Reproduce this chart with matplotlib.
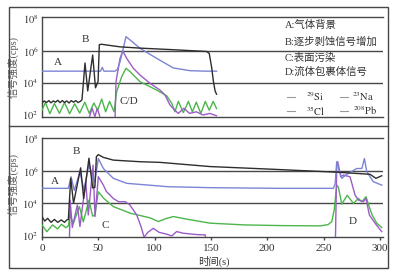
import numpy as np
import matplotlib
matplotlib.use('Agg')
import matplotlib.pyplot as plt
from matplotlib.patches import Rectangle
from matplotlib.lines import Line2D

plt.rcParams['font.family'] = ['Liberation Serif', 'Noto Sans CJK SC']
plt.rcParams['mathtext.fontset'] = 'stix'

W, H = 401, 275

# ---------------- data (time in s, log10 of intensity in cps) ----------------
# top panel
top_si_t = [0, 2, 4, 6, 8, 10, 12, 14, 16, 18, 20, 22, 24, 26, 28, 30, 32, 34, 35.5,
            38.2, 40.6, 45, 47.5, 49.8, 50.9, 53, 60, 69.3, 87, 116.6, 146.2, 148.5,
            150.7, 152.2, 153.7, 155]
top_si = [2.75, 2.88, 2.78, 2.9, 2.76, 2.88, 2.8, 2.92, 2.77, 2.9, 2.78, 2.88, 2.75, 2.9,
          2.8, 2.9, 2.78, 2.85, 2.95, 5.25, 3.5, 5.75, 3.7, 4.1, 6.4, 6.42, 6.35, 6.26,
          6.18, 6.08, 5.97, 5.85, 4.95, 4.1, 3.5, 3.3]

top_na_t = [0, 52, 53.5, 55, 64.8, 67, 69.3, 72.2, 74.6, 78.2, 87, 101.8, 116.6, 131.4, 145, 155]
top_na = [4.74, 4.74, 4.98, 4.74, 4.74, 4.85, 5.33, 6.17, 6.9, 6.69, 6.17, 5.54, 4.94,
          4.77, 4.74, 4.74]

top_pb_t = [40, 42, 44.5, 47, 49, 51, 52, 64.8, 65.7, 69.3, 71.7, 75.2, 81.1, 87, 95.9,
            104.8, 109.2, 113.7, 118, 121, 126, 131, 137, 143, 149, 153, 155]
top_pb = [1.5, 1.85, 2.42, 1.9, 2.4, 2.0, 1.5, 1.5, 4.08, 5.54, 6.0, 5.54, 4.92, 4.5, 3.98,
          3.56, 3.25, 2.62, 2.3, 2.1, 2.42, 2.1, 2.2, 2.0, 2.1, 2.0, 1.95]

top_cl_t = [0, 3, 7, 11, 15.5, 20, 24.5, 29, 33.5, 38, 42, 46, 49.5, 53, 56.5, 60, 64, 66.3,
            70.8, 74.6, 78.2, 87, 101.8, 110.7, 115.2, 118, 121, 125.5, 130, 133.5, 137,
            141, 145, 148.5, 152, 155]
top_cl = [2.3, 2.78, 2.08, 2.72, 2.1, 2.78, 2.08, 2.7, 2.12, 2.8, 2.1, 2.75, 2.3, 3.0, 2.2,
          2.85, 2.2, 3.46, 4.4, 4.92, 4.71, 4.08, 3.56, 3.2, 2.73, 2.2, 2.85, 2.15, 2.85,
          2.2, 2.8, 2.1, 2.85, 2.3, 2.85, 2.4]

# bottom panel
bot_si_t = [0, 2.5, 5, 8, 11, 14, 17, 20, 22, 23.4, 25.5, 28, 34.3, 37, 41.7, 45, 47, 48.3,
            50, 54.5, 63.3, 87, 104.8, 149.2, 202.5, 262, 291.3, 296.5, 301.7]
bot_si = [3.17, 2.9, 3.07, 2.82, 3.0, 2.82, 2.97, 2.82, 2.97, 3.0, 5.55, 4.0, 6.2, 4.3, 6.8,
          4.95, 5.0, 6.9, 7.02, 6.85, 6.68, 6.58, 6.54, 6.28, 6.12, 5.93, 5.8, 5.55, 5.71]

bot_na_t = [0, 23.4, 25.8, 28.7, 33.7, 37.3, 41.7, 45.6, 47, 50, 54.5, 63.3, 75.2, 112, 150,
            211, 258.7, 260.3, 261.7, 263.2, 266.2, 270.6, 279.5, 284, 286.3, 288.4, 294.2,
            301.7]
bot_na = [4.93, 4.93, 5.65, 4.8, 5.96, 4.8, 6.47, 5.34, 5.4, 6.78, 6.16, 5.55, 5.24, 5.03,
          4.97, 4.93, 4.93, 5.2, 6.58, 6.2, 5.55, 5.8, 6.16, 6.16, 6.78, 5.96, 5.34, 5.13]

bot_pb_t = [24.3, 25.0, 26.9, 31.4, 33.7, 38.8, 41.1, 45.3, 47.1, 50, 54.5, 57, 63.3, 68, 74,
            78, 84.1, 88, 90.6, 94, 98.8, 104, 110, 115.2, 119.6, 125, 134.4, 140, 144.8,
            146, 260.5, 261.7, 262.6, 265.3, 267.6, 273.5, 278, 281, 285.4, 287.7, 290.7,
            295.7, 301.7]
bot_pb = [1.5, 4.2, 2.5, 3.9, 2.56, 5.34, 3.28, 6.37, 3.18, 5.65, 5.13, 4.75, 4.3, 4.1, 4.1,
          3.9, 3.28, 2.55, 1.9, 2.2, 2.45, 2.2, 2.1, 1.98, 2.25, 2.15, 2.08, 2.05, 2.05,
          1.5, 1.5, 6.3, 6.58, 5.65, 5.75, 5.65, 4.51, 4.2, 4.1, 4.3, 3.28, 2.77, 2.24]

bot_cl_t = [0, 4.3, 9.4, 13.8, 17.3, 21.2, 23.4, 24.8, 27.8, 33.2, 36.7, 41.7, 45, 47, 50,
            54.5, 63.3, 78.2, 95.9, 103.3, 110, 116.6, 130, 149.2, 180, 211.4, 247, 254,
            257.3, 259.5, 261.7, 263.2, 266.2, 271, 276.5, 281, 284, 287.7, 290.5, 293,
            297.2, 301.7]
bot_cl = [2.66, 2.24, 2.66, 2.41, 2.7, 2.49, 2.6, 3.28, 2.75, 3.8, 2.85, 4.2, 3.2, 3.3, 4.72,
          4.33, 3.8, 3.39, 3.1, 2.87, 3.05, 3.18, 3.0, 2.77, 2.66, 2.62, 2.6, 2.68, 2.87,
          3.6, 5.13, 5.0, 3.95, 4.5, 4.0, 4.3, 4.1, 4.41, 3.8, 3.3, 2.77, 2.5]

x_ticks = [0, 50, 100, 150, 200, 250, 300]
y_ticks = [2, 4, 6, 8]

legend_notes = ['A:气体背景', 'B:逐步剥蚀信号增加', 'C:表面污染', 'D:流体包裹体信号']
element_labels = [r'$^{29}\mathrm{Si}$', r'$^{23}\mathrm{Na}$',
                  r'$^{35}\mathrm{Cl}$', r'$^{208}\mathrm{Pb}$']

# ---------------- styling ----------------
C_SI = '#2e2e2e'
C_NA = '#7c84d6'
C_CL = '#4cb64c'
C_PB = '#9b5cc6'
C_AX = '#474747'
C_TX = '#333333'
LW = 1.0

fig = plt.figure(figsize=(W / 100, H / 100), dpi=100)


def fx(x):
    return x / W


def fy(y):
    return 1 - y / H


ax1 = fig.add_axes([fx(42), fy(117), (383 - 42) / W, 100 / H])
ax2 = fig.add_axes([fx(42), fy(236.7), (383 - 42) / W, 99 / H])


def pw(v):
    return 10 ** np.asarray(v, dtype=float)


for ax, ylim in ((ax1, (10 ** 1.875, 10 ** 8.125)), (ax2, (10 ** 1.93, 10 ** 8.07))):
    ax.set_yscale('log')
    ax.set_xlim(0, 302.8)
    ax.set_ylim(*ylim)
    ax.set_yticks([10.0 ** e for e in y_ticks])
    ax.set_yticklabels([r'$10^{%d}$' % e for e in y_ticks])
    ax.yaxis.set_minor_locator(matplotlib.ticker.NullLocator())
    ax.tick_params(axis='y', length=0, pad=2.5, labelsize=7.5, labelcolor=C_TX)
    ax.spines['right'].set_visible(False)
    for s in ('left', 'top', 'bottom'):
        ax.spines[s].set_color(C_AX)
        ax.spines[s].set_linewidth(1.0)
    ax.axhline(1e6, color=C_AX, lw=1.0, zorder=1)
    ax.axhline(1e4, color=C_AX, lw=1.0, zorder=1)
    ax.patch.set_alpha(0)

ax1.set_xticks([])

ax1.plot(top_cl_t, pw(top_cl), color=C_CL, lw=LW, zorder=3)
ax1.plot(top_pb_t, pw(top_pb), color=C_PB, lw=LW, zorder=3)
ax1.plot(top_na_t, pw(top_na), color=C_NA, lw=LW, zorder=3)
ax1.plot(top_si_t, pw(top_si), color=C_SI, lw=LW, zorder=3)

ax2.plot(bot_cl_t, pw(bot_cl), color=C_CL, lw=LW, zorder=3)
ax2.plot(bot_pb_t, pw(bot_pb), color=C_PB, lw=LW, zorder=3)
ax2.plot(bot_na_t, pw(bot_na), color=C_NA, lw=LW, zorder=3)
ax2.plot(bot_si_t, pw(bot_si), color=C_SI, lw=LW, zorder=3)

ax2.set_xticks(x_ticks)
ax2.set_xticklabels([str(v) for v in x_ticks])
ax2.tick_params(axis='x', direction='out', length=2.5, width=1.0, color=C_AX,
                pad=2.5, labelsize=8, labelcolor=C_TX)

# ---------------- texts ----------------
tkw = dict(color=C_TX, ha='center', va='center', fontsize=8)
for (x, y, s) in [(58, 62.5, 'A'), (85, 39, 'B'), (129, 102, 'C/D'),
                  (55, 182, 'A'), (76, 151, 'B'), (105, 226, 'C'), (353, 222, 'D')]:
    fig.text(fx(x), fy(y), s, **tkw)

for y, s in zip([25, 42, 58, 72], legend_notes):
    fig.text(fx(285), fy(y), s, color=C_TX, ha='left', va='center', fontsize=7.5)

leg_pos = [(287, 306, 97), (340, 352, 97), (287, 306, 111), (340, 353, 111)]
for (lx, tx, y), lab in zip(leg_pos, element_labels):
    fig.add_artist(Line2D([fx(lx), fx(lx + 8)], [fy(y), fy(y)], color='#9a9a9a', lw=0.8,
                          transform=fig.transFigure))
    fig.text(fx(tx), fy(y), lab, color=C_TX, ha='left', va='center', fontsize=7.5)

fig.text(fx(14.5), fy(67), '信号强度(cps)', rotation=90, ha='center', va='center',
         fontsize=7.5, color='#555555')
fig.text(fx(14.5), fy(184), '信号强度(cps)', rotation=90, ha='center', va='center',
         fontsize=7.5, color='#555555')
fig.text(fx(214), fy(261), '时间(s)', ha='center', va='center', fontsize=7.5, color=C_TX)

# outer frame and divider
fig.add_artist(Rectangle((fx(9), fy(268)), (388 - 9) / W, (268 - 7) / H, fill=False,
                         ec=C_AX, lw=1.0, transform=fig.transFigure))
fig.add_artist(Line2D([fx(9), fx(388)], [fy(126), fy(126)], color=C_AX, lw=1.0,
                      transform=fig.transFigure))

fig.savefig('out.png', dpi=100)
